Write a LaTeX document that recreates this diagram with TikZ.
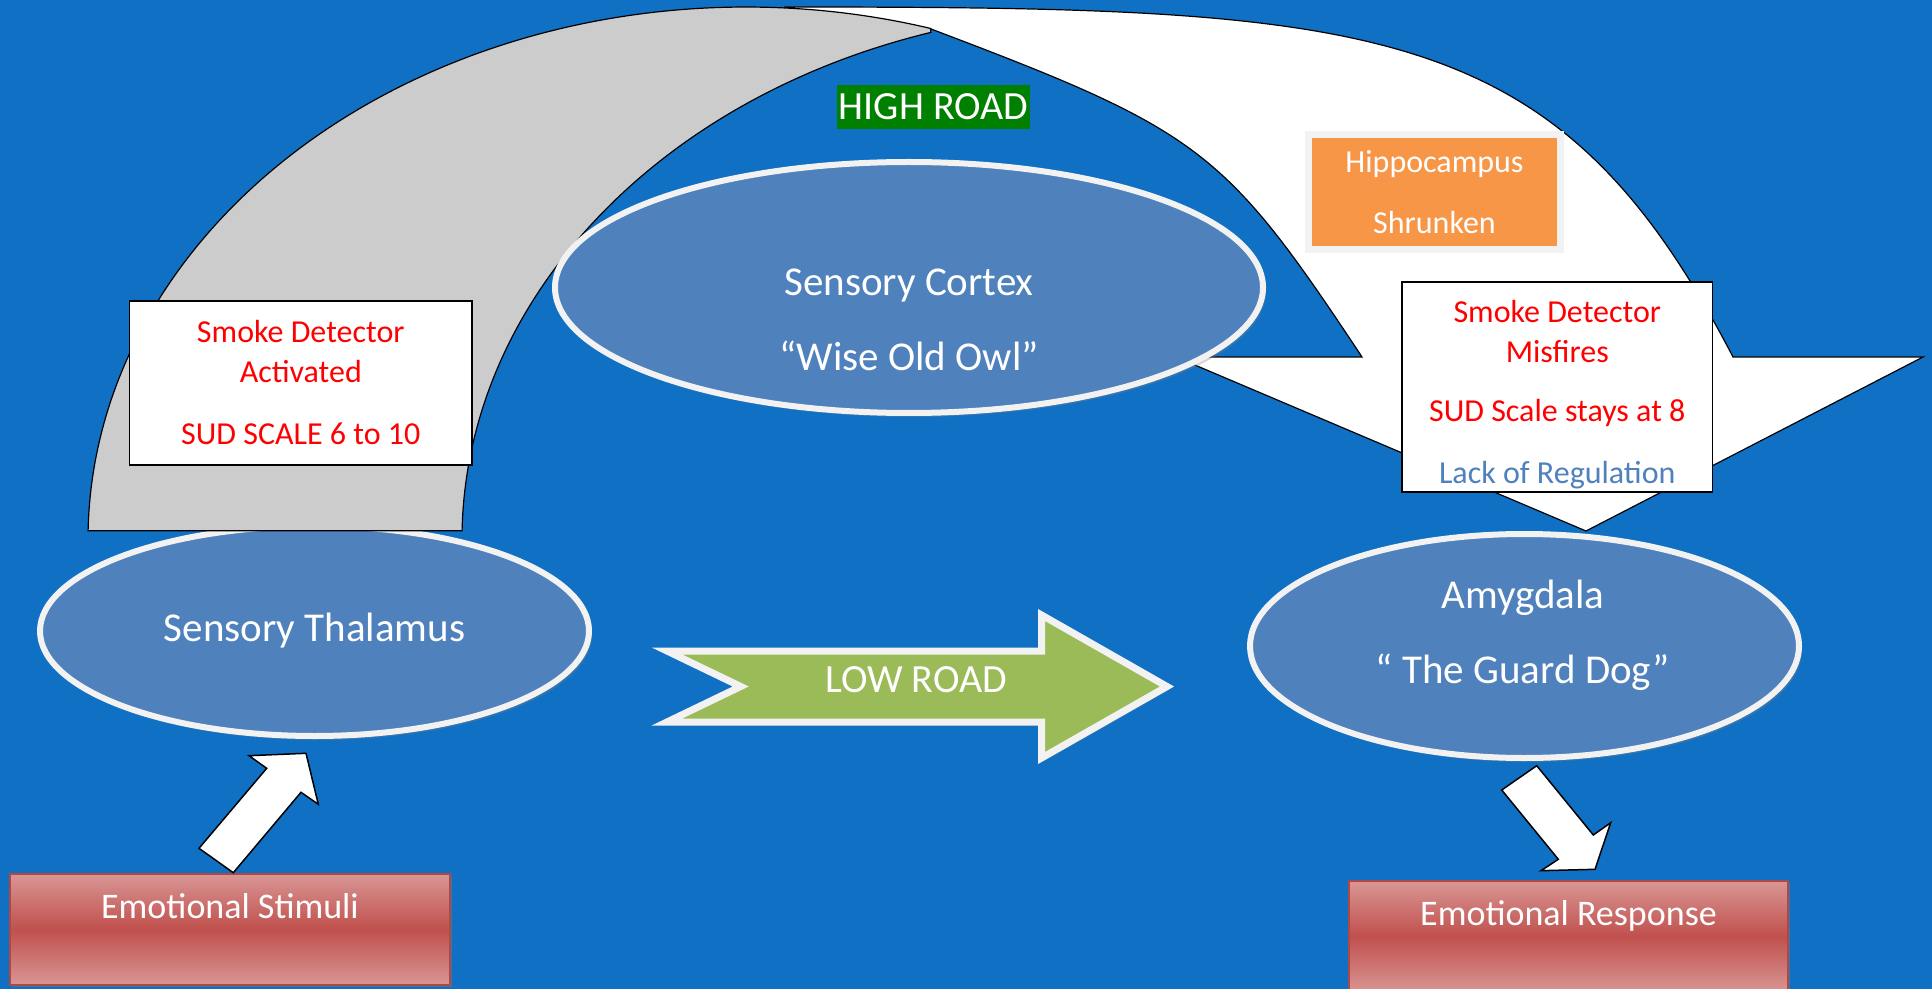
\documentclass[tikz,border=0pt]{standalone}
\usepackage{fontspec}
\setmainfont{Carlito}
\usepackage{xcolor}
\definecolor{slideBlue}{HTML}{1070C4}
\definecolor{slideSteel}{HTML}{4F81BD}
\definecolor{slideRim}{HTML}{F2F2F2}
\definecolor{slideGrey}{HTML}{CCCCCC}
\definecolor{slideOrange}{HTML}{F79646}
\definecolor{slideTan}{HTML}{C8A07C}
\definecolor{slideRed}{HTML}{C0504D}
\definecolor{slideRedPale}{HTML}{D99694}
\definecolor{slideGreen}{HTML}{9BBB59}
\definecolor{slideForest}{HTML}{008000}
\usetikzlibrary{shapes.geometric, shadows}
\tikzset{
  %% ── Shapes ───────────────────────────────────────────────────────────
  %% Ellipses are the brain regions, boxes are what is said about them.
  region/.style     = {ellipse, fill=slideSteel, draw=slideRim, line width=3pt,
                       inner sep=0pt, text=white, font=\fontsize{20.5}{37.5}\selectfont,
                       drop shadow={shadow xshift=1.5pt, shadow yshift=-2pt, opacity=0.35}},
  regionText/.style = {text=white, align=center, font=\fontsize{20.5}{37.5}\selectfont},
  smokeBox/.style   = {draw=black, line width=0.75pt, fill=white, text=red,
                       align=center, inner sep=0pt, font=\fontsize{16}{20}\selectfont},
  hippoBox/.style   = {fill=slideOrange, draw=slideRim, line width=3.5pt, text=white,
                       align=center, font=\fontsize{16}{30.5}\selectfont,
                       drop shadow={shadow xshift=1pt, shadow yshift=-1.5pt,
                                    fill=slideTan, opacity=1}},
  stimBox/.style    = {draw=slideRed!90!black, line width=0.8pt, top color=slideRedPale,
                       bottom color=slideRedPale, middle color=slideRed, text=white,
                       font=\fontsize{18}{22}\selectfont, text height=12pt, text depth=23.5pt,
                       drop shadow={shadow xshift=0.8pt, shadow yshift=-1pt, opacity=0.4}},
  roadLabel/.style  = {text=white, font=\fontsize{20}{24}\selectfont},
  %%
  %% ── Arrows ───────────────────────────────────────────────────────────
  bandFront/.style  = {fill=white, draw=black, line width=0.6pt},
  bandBack/.style   = {fill=slideGrey, draw=black, line width=0.6pt},
  roadArrow/.style  = {fill=slideGreen, draw=slideRim, line width=3.5pt, line join=miter,
                       drop shadow={shadow xshift=1.5pt, shadow yshift=-1.5pt, opacity=0.4}},
  blockArrow/.style = {fill=white, draw=black, line width=0.75pt, line join=miter},
}

\begin{document}
\begin{tikzpicture}[x=0.5pt, y=-0.5pt]
\fill[slideBlue, use as bounding box] (0,0) rectangle (1932,989);

\node[region, minimum width=274.5pt, minimum height=105pt] (thalamus) at (314.5,631) {Sensory Thalamus};
\node[region, minimum width=274.5pt, minimum height=112pt] (amygdala) at (1524.5,646) {};
\node[regionText] (amygdalaText) at (1523,635) {Amygdala\\“ The Guard Dog”};

% high road: front band with its head, then the grey underside
\filldraw[bandFront] (784,7) .. controls (1384,7) and (1557.5,19.5) .. (1733,357)
  -- (1923,357) -- (1586,531) -- (1176,357) -- (1362,357)
  .. controls (1224.5,149.5) and (1201,131) .. (931,29) -- cycle;
\filldraw[bandBack] (88.1,530.7) arc[start angle=181, end angle=286.3, x radius=658, y radius=533]
  -- (930.9,32.4) arc[start angle=253.3, end angle=181, x radius=658, y radius=530] -- cycle;

\node[region, minimum width=354pt, minimum height=125.5pt] (cortex) at (909,287.5) {};
\node[regionText] (cortexText) at (909,319.5) {Sensory Cortex\\“Wise Old Owl”};
\node[roadLabel, fill=slideForest, minimum width=96.5pt, minimum height=22pt,
      inner sep=0pt] (highRoad) at (933.5,107) {HIGH ROAD};

\node[hippoBox, minimum width=126pt, minimum height=57.25pt] (hippocampus) at (1434.5,192.25)
     {Hippocampus\\Shrunken};
\node[smokeBox, minimum width=171.25pt, minimum height=82pt] (smokeOn) at (300.75,383)
     {Smoke Detector\\Activated\\[11pt]SUD SCALE 6 to 10};
\node[smokeBox, minimum width=155.25pt, minimum height=105pt] (smokeOff) at (1557.25,387)
     {\rule{0pt}{19pt}Smoke Detector\\Misfires\\[9.5pt]SUD Scale stays at 8\\[11pt]\textcolor{slideSteel}{Lack of Regulation}};

% low road
\filldraw[roadArrow] (667,651) -- (1041.5,651) -- (1041.5,615) -- (1167,686.5) -- (1041.5,758)
  -- (1041.5,722) -- (667,722) -- (740.7,686.5) -- cycle;
\node[roadLabel] (lowRoad) at (916,680) {LOW ROAD};

\node[stimBox, minimum width=220pt, minimum height=55.5pt] (stimuli) at (230,929.5) {Emotional Stimuli};
\node[stimBox, minimum width=219.5pt, minimum height=55.5pt] (response) at (1568.5,936.5) {Emotional Response};

\filldraw[blockArrow] (233.3,872.7) -- (199,848.3) -- (266.7,768.3) -- (249,755.7) -- (306,753.3)
  -- (318.3,804.3) -- (301,792.3) -- cycle;
\filldraw[blockArrow] (1536.7,765.7) -- (1501.7,790) -- (1558.3,859.3) -- (1541,870.7)
  -- (1595,869.3) -- (1610.7,822.7) -- (1593.3,835) -- cycle;

\end{tikzpicture}
\end{document}
